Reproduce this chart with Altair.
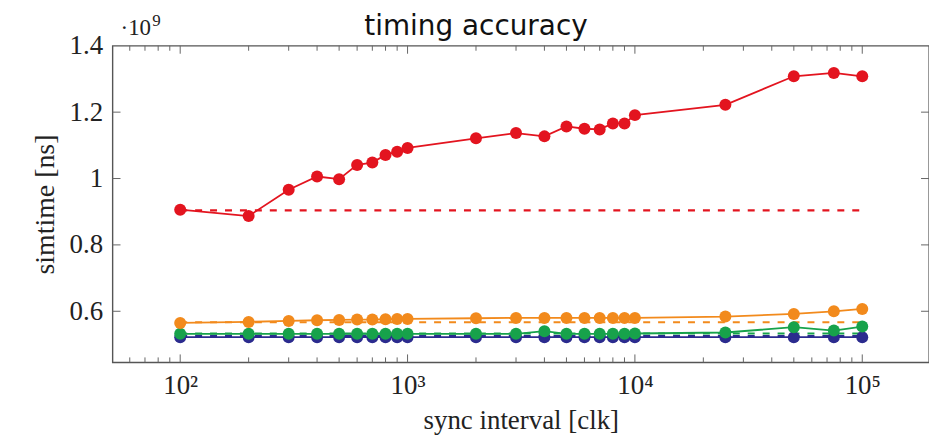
import altair as alt
import pandas as pd

# ---- data (simtime in units of 1e9 ns) ----
x_vals = [100, 200, 300, 400, 500, 600, 700, 800, 900, 1000,
          2000, 3000, 4000, 5000, 6000, 7000, 8000, 9000, 10000,
          25000, 50000, 75000, 100000]
red_vals = [0.906, 0.887, 0.966, 1.006, 0.998, 1.041, 1.048, 1.071, 1.081, 1.092,
            1.121, 1.137, 1.127, 1.157, 1.150, 1.148, 1.166, 1.166, 1.191,
            1.222, 1.308, 1.318, 1.308]
orange_vals = [0.565, 0.568, 0.571, 0.573, 0.574, 0.575, 0.575, 0.576, 0.577, 0.577,
               0.579, 0.580, 0.580, 0.580, 0.580, 0.580, 0.580, 0.580, 0.580,
               0.584, 0.592, 0.600, 0.607]
green_vals = [0.532, 0.532, 0.532, 0.532, 0.532, 0.532, 0.532, 0.532, 0.532, 0.532,
              0.532, 0.532, 0.540, 0.532, 0.532, 0.532, 0.532, 0.532, 0.533,
              0.536, 0.552, 0.542, 0.554]
blue_vals = [0.522] * 23
series_names = ["blue", "green", "orange", "red"]
series_colors = ["#2b2b8e", "#17a24b", "#f28a1c", "#e3141f"]
ref_x = [100, 100000]
ref_vals = {"blue": 0.525, "green": 0.533, "orange": 0.567, "red": 0.904}

x_major = [100, 1000, 10000, 100000]
x_minor = [60, 70, 80, 90, 200, 300, 400, 500, 600, 700, 800, 900,
           2000, 3000, 4000, 5000, 6000, 7000, 8000, 9000,
           20000, 30000, 40000, 50000, 60000, 70000, 80000, 90000]
y_ticks = [0.6, 0.8, 1.0, 1.2, 1.4]
title_text = "timing accuracy"
exp_base = "·10"
exp_power = "9"

# ---- tables ----
series_vals = {"blue": blue_vals, "green": green_vals, "orange": orange_vals, "red": red_vals}
rows = []
for name in series_names:
    for x, v in zip(x_vals, series_vals[name]):
        rows.append({"x": x, "y": v, "s": name})
df = pd.DataFrame(rows)
dash_rows = []
for name in series_names:
    for x in ref_x:
        dash_rows.append({"x": x, "y": ref_vals[name], "s": name})
df_dash = pd.DataFrame(dash_rows)

W, H = 820, 318
SERIF = "Liberation Serif"
TXT = "#222"

xscale = alt.Scale(type="log", domain=[50.4, 196600], nice=False)
yscale = alt.Scale(domain=[0.446, 1.4], nice=False, zero=False)
cscale = alt.Scale(domain=series_names, range=series_colors)

xaxis = alt.Axis(values=x_major, ticks=False, domain=False, grid=False,
                 labelExpr="'10' + (datum.value == 100 ? '²' : datum.value == 1000 ? '³' : datum.value == 10000 ? '⁴' : '⁵')",
                 labelFont=SERIF, labelFontSize=27, labelColor=TXT, labelPadding=10,
                 title="sync interval [clk]", titleFont=SERIF, titleFontSize=27,
                 titleFontWeight="normal", titleColor=TXT, titlePadding=9)
yaxis = alt.Axis(values=y_ticks, ticks=False, domain=False, grid=False,
                 labelExpr="format(datum.value, '~g')",
                 labelFont=SERIF, labelFontSize=27, labelColor=TXT, labelPadding=10,
                 title="simtime [ns]", titleFont=SERIF, titleFontSize=28,
                 titleFontWeight="normal", titleColor=TXT, titlePadding=10)

base = alt.Chart(df)
lines = base.mark_line(strokeWidth=1.8).encode(
    x=alt.X("x:Q", scale=xscale, axis=xaxis),
    y=alt.Y("y:Q", scale=yscale, axis=yaxis),
    color=alt.Color("s:N", scale=cscale, legend=None),
    detail="s:N",
)
dashes = alt.Chart(df_dash).mark_line(strokeWidth=2.2, strokeDash=[7, 8]).encode(
    x=alt.X("x:Q", scale=xscale),
    y=alt.Y("y:Q", scale=yscale),
    color=alt.Color("s:N", scale=cscale, legend=None),
    detail="s:N",
)
points = base.mark_circle(size=145, opacity=1).encode(
    x=alt.X("x:Q", scale=xscale),
    y=alt.Y("y:Q", scale=yscale),
    color=alt.Color("s:N", scale=cscale, legend=None),
)

TICK = "#666"
df_xmaj = pd.DataFrame({"x": x_major})
df_xmin = pd.DataFrame({"x": x_minor})
df_y = pd.DataFrame({"y": y_ticks[:-1]})
xmaj_b = alt.Chart(df_xmaj).mark_rule(color=TICK, strokeWidth=1).encode(
    x=alt.X("x:Q", scale=xscale), y=alt.value(H), y2=alt.value(H - 8))
xmaj_t = alt.Chart(df_xmaj).mark_rule(color=TICK, strokeWidth=1).encode(
    x=alt.X("x:Q", scale=xscale), y=alt.value(0), y2=alt.value(8))
xmin_b = alt.Chart(df_xmin).mark_rule(color=TICK, strokeWidth=1).encode(
    x=alt.X("x:Q", scale=xscale), y=alt.value(H), y2=alt.value(H - 5))
xmin_t = alt.Chart(df_xmin).mark_rule(color=TICK, strokeWidth=1).encode(
    x=alt.X("x:Q", scale=xscale), y=alt.value(0), y2=alt.value(5))
y_l = alt.Chart(df_y).mark_rule(color=TICK, strokeWidth=1).encode(
    y=alt.Y("y:Q", scale=yscale), x=alt.value(0), x2=alt.value(8))
y_r = alt.Chart(df_y).mark_rule(color=TICK, strokeWidth=1).encode(
    y=alt.Y("y:Q", scale=yscale), x=alt.value(W), x2=alt.value(W - 8))

exp_text = alt.Chart(pd.DataFrame({"t": [exp_base]})).mark_text(
    font=SERIF, fontSize=23, color=TXT, align="left", baseline="alphabetic"
).encode(text="t:N", x=alt.value(8), y=alt.value(-11))
exp_sup = alt.Chart(pd.DataFrame({"t": [exp_power]})).mark_text(
    font=SERIF, fontSize=17, color=TXT, align="left", baseline="alphabetic"
).encode(text="t:N", x=alt.value(40), y=alt.value(-20))
title_mark = alt.Chart(pd.DataFrame({"t": [title_text]})).mark_text(
    font="DejaVu Sans", fontSize=28, color="#111", align="center", baseline="alphabetic"
).encode(text="t:N", x=alt.value(365), y=alt.value(-11))

chart = alt.layer(
    xmin_b, xmin_t, xmaj_b, xmaj_t, y_l, y_r,
    dashes, lines, points, exp_text, exp_sup, title_mark,
).properties(
    width=W, height=H,
    autosize=alt.AutoSizeParams(type="none"),
    padding={"left": 105, "top": 37, "right": 0, "bottom": 72},
).configure_view(stroke="#555", strokeWidth=1.4)

chart.save("out.html", embed_options={"renderer": "svg", "actions": False})
